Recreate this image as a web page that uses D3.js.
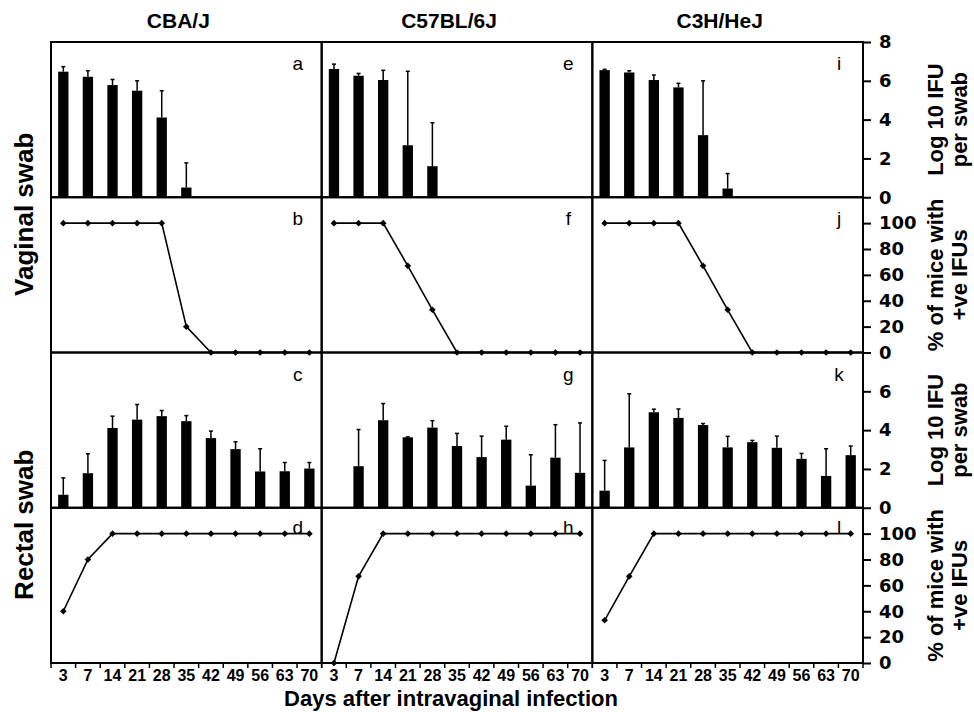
<!DOCTYPE html>
<html>
<head>
<meta charset="utf-8">
<script src="https://cdn.jsdelivr.net/npm/d3@7"></script>
<style>
  body { margin: 0; background: #fff; }
  text { font-family: "Liberation Sans", Arial, sans-serif; fill: #000; }
</style>
</head>
<body>
<div id="chart"></div>
<script>
// categories
const days = ["3", "7", "14", "21", "28", "35", "42", "49", "56", "63", "70"];
const strains = ["CBA/J", "C57BL/6J", "C3H/HeJ"];
const letters = [["a", "b", "c", "d"], ["e", "f", "g", "h"], ["i", "j", "k", "l"]];

// vaginal swab, log10 IFU (mean and upper error)
const vagLog = [
    [6.47, 6.21, 5.78, 5.49, 4.11, 0.50, 0, 0, 0, 0, 0],
    [6.61, 6.26, 6.04, 2.68, 1.60, 0, 0, 0, 0, 0, 0],
    [6.55, 6.43, 6.04, 5.66, 3.20, 0.45, 0, 0, 0, 0, 0]
];
const vagLogErr = [
    [0.26, 0.31, 0.29, 0.51, 1.38, 1.27, 0, 0, 0, 0, 0],
    [0.25, 0.12, 0.50, 3.81, 2.24, 0, 0, 0, 0, 0, 0],
    [0.04, 0.09, 0.26, 0.21, 2.80, 0.77, 0, 0, 0, 0, 0]
];
// vaginal swab, % of mice positive
const vagPct = [
    [100, 100, 100, 100, 100, 20, 0, 0, 0, 0, 0],
    [100, 100, 100, 67, 33, 0, 0, 0, 0, 0, 0],
    [100, 100, 100, 100, 67, 33, 0, 0, 0, 0, 0]
];
// rectal swab, log10 IFU
const recLog = [
    [0.67, 1.78, 4.11, 4.54, 4.72, 4.46, 3.59, 3.02, 1.87, 1.88, 2.02],
    [0, 2.14, 4.51, 3.63, 4.13, 3.18, 2.61, 3.51, 1.14, 2.58, 1.80],
    [0.88, 3.11, 4.92, 4.63, 4.26, 3.11, 3.38, 3.09, 2.52, 1.64, 2.71]
];
const recLogErr = [
    [0.87, 1.00, 0.61, 0.78, 0.29, 0.29, 0.36, 0.38, 1.17, 0.45, 0.31],
    [0, 1.89, 0.86, 0.02, 0.36, 0.65, 1.08, 0.69, 1.59, 1.70, 2.57],
    [1.56, 2.76, 0.16, 0.46, 0.08, 0.57, 0.09, 0.60, 0.28, 1.40, 0.47]
];
// rectal swab, % of mice positive
const recPct = [
    [40, 80, 100, 100, 100, 100, 100, 100, 100, 100, 100],
    [0, 67, 100, 100, 100, 100, 100, 100, 100, 100, 100],
    [33, 67, 100, 100, 100, 100, 100, 100, 100, 100, 100]
];
const logTicks = [[0, 2, 4, 6, 8], [0, 2, 4, 6]];
const pctTicks = [0, 20, 40, 60, 80, 100];

// SVG setup
let svgWidth = 974;
let svgHeight = 712;
let margin = { top: 42, bottom: 49, left: 51, right: 111 };
let width = svgWidth - margin.left - margin.right;
let height = svgHeight - margin.top - margin.bottom;
let colW = width / 3;
let rowH = height / 4;

let svg = d3.select("#chart")
    .append("svg")
    .attr("width", svgWidth)
    .attr("height", svgHeight)
    .style("background", "#fff");

let chartGroup = svg.append("g")
    .attr("transform", `translate(${margin.left},${margin.top})`);

// x band scale, same for every column
let x = d3.scaleBand().domain(days).range([0, colW]).padding(0);
let barW = x.bandwidth() * 0.42;

// one y scale per row type
let yLog = d3.scaleLinear().domain([0, 8]).range([rowH, 0]);
let yPct = d3.scaleLinear().domain([0, 120]).range([rowH, 0]);

let rows = [
    { type: "bar", vals: vagLog, err: vagLogErr },
    { type: "line", vals: vagPct },
    { type: "bar", vals: recLog, err: recLogErr },
    { type: "line", vals: recPct }
];

let diamond = d3.symbol().type(d3.symbolDiamond2).size(28);

strains.forEach((strain, c) => {
    rows.forEach((row, r) => {
        let panel = chartGroup.append("g")
            .attr("transform", `translate(${c * colW},${r * rowH})`);
        let vals = row.vals[c];

        if (row.type === "bar") {
            let g = panel.selectAll(".bar")
                .data(vals.map((v, i) => ({ day: days[i], v: v, e: row.err[c][i] })))
                .enter()
                .filter(d => d.v > 0);
            g.append("rect")
                .attr("x", d => x(d.day) + (x.bandwidth() - barW) / 2)
                .attr("y", d => yLog(d.v))
                .attr("width", barW)
                .attr("height", d => rowH - yLog(d.v))
                .attr("fill", "#000");
            // error bars (upper only)
            g.append("line")
                .attr("x1", d => x(d.day) + x.bandwidth() / 2)
                .attr("x2", d => x(d.day) + x.bandwidth() / 2)
                .attr("y1", d => yLog(d.v))
                .attr("y2", d => yLog(d.v + d.e))
                .attr("stroke", "#000")
                .attr("stroke-width", 1.5);
            g.append("line")
                .attr("x1", d => x(d.day) + x.bandwidth() / 2 - 2)
                .attr("x2", d => x(d.day) + x.bandwidth() / 2 + 2)
                .attr("y1", d => yLog(d.v + d.e))
                .attr("y2", d => yLog(d.v + d.e))
                .attr("stroke", "#000")
                .attr("stroke-width", 1.5);
        } else {
            let pts = vals.map((v, i) => ({ day: days[i], v: v }));
            let line = d3.line()
                .x(d => x(d.day) + x.bandwidth() / 2)
                .y(d => yPct(d.v));
            panel.append("path")
                .datum(pts)
                .attr("d", line)
                .attr("fill", "none")
                .attr("stroke", "#000")
                .attr("stroke-width", 1.6);
            panel.selectAll(".pt")
                .data(pts)
                .enter()
                .append("path")
                .attr("d", diamond)
                .attr("transform", d => `translate(${x(d.day) + x.bandwidth() / 2},${yPct(d.v)})`)
                .attr("fill", "#000");
        }

        // panel letter
        panel.append("text")
            .attr("x", colW - 24)
            .attr("y", r === 3 ? 26 : 28)
            .attr("text-anchor", "middle")
            .style("font-size", "19px")
            .text(letters[c][r]);

        // panel frame
        panel.append("rect")
            .attr("width", colW)
            .attr("height", rowH)
            .attr("fill", "none")
            .attr("stroke", "#000")
            .attr("stroke-width", 2);
    });

    // column title
    chartGroup.append("text")
        .attr("x", c * colW + colW / 2 - 8)
        .attr("y", -14)
        .attr("text-anchor", "middle")
        .style("font-size", "21px")
        .style("font-weight", "bold")
        .text(strain);

    // x axis for the column
    let xAxisG = chartGroup.append("g")
        .attr("transform", `translate(${c * colW},${height})`)
        .call(d3.axisBottom(x).tickSize(0).tickPadding(7));
    xAxisG.select(".domain").remove();
    xAxisG.selectAll("text")
        .style("font-family", "'Liberation Sans', Arial, sans-serif")
        .style("font-size", "16px")
        .style("font-weight", "bold")
        .attr("fill", "#000");
    // boundary ticks between categories
    xAxisG.selectAll(".btick")
        .data(days.concat(["end"]))
        .enter()
        .append("line")
        .attr("x1", d => d === "end" ? colW : x(d))
        .attr("x2", d => d === "end" ? colW : x(d))
        .attr("y1", 0)
        .attr("y2", 5)
        .attr("stroke", "#000")
        .attr("stroke-width", 1.5);
});

// right-hand y axes
rows.forEach((row, r) => {
    let scale = row.type === "bar" ? yLog : yPct;
    let ticks = row.type === "bar" ? logTicks[r === 0 ? 0 : 1] : pctTicks;
    let axisG = chartGroup.append("g")
        .attr("transform", `translate(${width},${r * rowH})`)
        .call(d3.axisRight(scale).tickValues(ticks).tickSize(8).tickPadding(8));
    axisG.select(".domain").remove();
    axisG.selectAll("line").attr("stroke-width", 2);
    axisG.selectAll("text")
        .style("font-family", "'DejaVu Sans', sans-serif")
        .style("font-size", "18px")
        .style("font-weight", "bold")
        .attr("fill", "#000");

    let lines = row.type === "bar" ? ["Log 10 IFU", "per swab"] : ["% of mice with", "+ve IFUs"];
    lines.forEach((t, k) => {
        chartGroup.append("text")
            .attr("transform", `translate(${width + 80 + k * 24},${r * rowH + rowH / 2}) rotate(-90)`)
            .attr("text-anchor", "middle")
            .style("font-size", "22px")
            .style("font-weight", "bold")
            .text(t);
    });
});

// left row labels
["Vaginal swab", "Rectal swab"].forEach((t, k) => {
    chartGroup.append("text")
        .attr("transform", `translate(${33 - margin.left},${(2 * k + 1) * rowH + 17}) rotate(-90)`)
        .attr("text-anchor", "middle")
        .style("font-size", "26px")
        .style("font-weight", "bold")
        .text(t);
});

// bottom axis title
chartGroup.append("text")
    .attr("x", width / 2 - 6)
    .attr("y", height + 43)
    .attr("text-anchor", "middle")
    .style("font-size", "22px")
    .style("font-weight", "bold")
    .text("Days after intravaginal infection");
</script>
</body>
</html>
